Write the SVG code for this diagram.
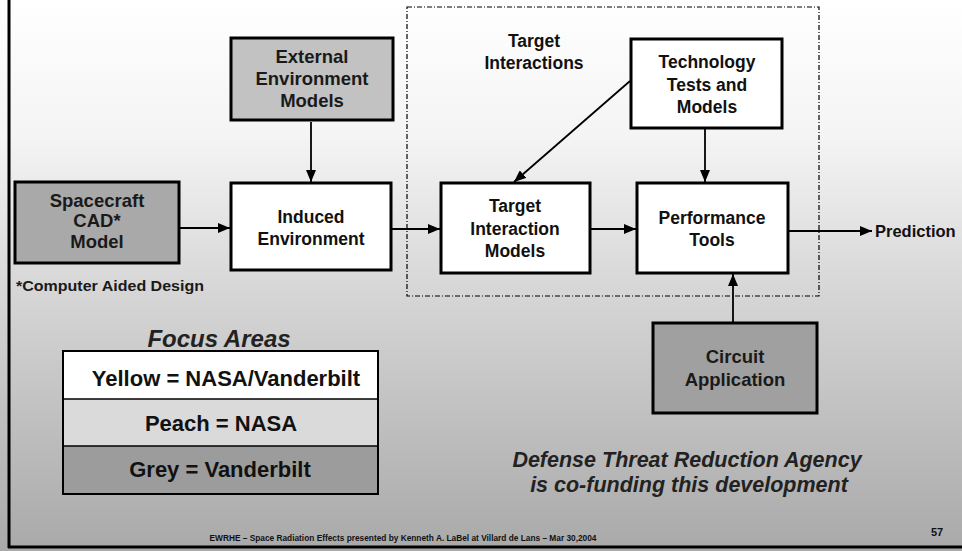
<svg xmlns="http://www.w3.org/2000/svg" width="962" height="551" viewBox="0 0 962 551">
  <defs>
    <linearGradient id="bg" x1="0" y1="0" x2="0" y2="1">
      <stop offset="0" stop-color="#ffffff"/>
      <stop offset="0.25" stop-color="#f4f4f4"/>
      <stop offset="0.5" stop-color="#d9d9d9"/>
      <stop offset="0.8" stop-color="#bcbcbc"/>
      <stop offset="1" stop-color="#a9a9a9"/>
    </linearGradient>
    <marker id="arrow" viewBox="0 0 12 10" refX="12" refY="5" markerWidth="12" markerHeight="10" markerUnits="userSpaceOnUse" orient="auto">
      <path d="M0,0 L12,5 L0,10 z" fill="#000"/>
    </marker>
  </defs>
  <style>
    .box { stroke: #000; stroke-width: 3; }
    .white { fill: #ffffff; }
    .grey1 { fill: #c2c2c2; }
    .grey2 { fill: #a9a9a9; }
    .grey3 { fill: #a0a0a0; }
    .lbl { font-family: "Liberation Sans", Arial, sans-serif; font-weight: bold; font-size: 17.5px; fill: #111; text-anchor: middle; }
    .heavy { font-size: 18.5px; fill: #1a1a1a; }
    .edge { stroke: #000; stroke-width: 1.8; fill: none; marker-end: url(#arrow); }
    .ital { font-family: "Liberation Sans", Arial, sans-serif; font-weight: bold; font-style: italic; fill: #222; text-anchor: middle; }
    .leg { font-size: 22px; }
  </style>

  <!-- slide background and frame -->
  <rect x="0" y="0" width="962" height="551" fill="url(#bg)"/>
  <line x1="9" y1="0" x2="9" y2="548" stroke="#000" stroke-width="3"/>
  <line x1="8" y1="547" x2="962" y2="547" stroke="#000" stroke-width="3"/>

  <!-- target interactions boundary -->
  <rect x="407" y="7" width="412" height="289" fill="none" stroke="#000" stroke-width="1.2" stroke-dasharray="5,2,1,2"/>
  <text class="lbl" x="534" y="47">Target</text>
  <text class="lbl" x="534" y="69">Interactions</text>

  <g id="connectors">
    <line class="edge" x1="179" y1="228" x2="230" y2="228"/>
    <line class="edge" x1="311" y1="122" x2="311" y2="182"/>
    <line class="edge" x1="392" y1="229" x2="440" y2="229"/>
    <line class="edge" x1="630" y1="81" x2="514" y2="182"/>
    <line class="edge" x1="591" y1="229" x2="636" y2="229"/>
    <line class="edge" x1="705" y1="129" x2="705" y2="182"/>
    <line class="edge" x1="789" y1="231" x2="872" y2="231"/>
    <line class="edge" x1="733" y1="322" x2="733" y2="274"/>
  </g>

  <g id="spacecraft">
    <rect class="box grey2" x="15" y="182" width="164" height="81"/>
    <text class="lbl heavy" x="97" y="207">Spacecraft</text>
    <text class="lbl heavy" x="97" y="227">CAD*</text>
    <text class="lbl heavy" x="97" y="248">Model</text>
  </g>

  <g id="external">
    <rect class="box grey1" x="231" y="38" width="162" height="82"/>
    <text class="lbl heavy" x="312" y="63">External</text>
    <text class="lbl heavy" x="312" y="85">Environment</text>
    <text class="lbl heavy" x="312" y="107">Models</text>
  </g>

  <g id="induced">
    <rect class="box white" x="231" y="183" width="160" height="87"/>
    <text class="lbl" x="311" y="223">Induced</text>
    <text class="lbl" x="311" y="245">Environment</text>
  </g>

  <g id="technology">
    <rect class="box white" x="631" y="39" width="151" height="89"/>
    <text class="lbl" x="707" y="68">Technology</text>
    <text class="lbl" x="707" y="91">Tests and</text>
    <text class="lbl" x="707" y="113">Models</text>
  </g>

  <g id="target-models">
    <rect class="box white" x="441" y="183" width="149" height="90"/>
    <text class="lbl" x="515" y="212">Target</text>
    <text class="lbl" x="515" y="235">Interaction</text>
    <text class="lbl" x="515" y="257">Models</text>
  </g>

  <g id="performance">
    <rect class="box white" x="637" y="183" width="151" height="90"/>
    <text class="lbl" x="712" y="224">Performance</text>
    <text class="lbl" x="712" y="246">Tools</text>
  </g>

  <g id="prediction">
    <text class="lbl" x="875" y="237" style="text-anchor:start;font-size:16.5px">Prediction</text>
  </g>

  <g id="circuit">
    <rect class="box grey3" x="653" y="323" width="164" height="90"/>
    <text class="lbl heavy" x="735" y="363">Circuit</text>
    <text class="lbl heavy" x="735" y="386">Application</text>
  </g>

  <text x="16" y="291" font-family="Liberation Sans, Arial, sans-serif" font-weight="bold" font-size="15" fill="#1a1a1a" textLength="188" lengthAdjust="spacingAndGlyphs">*Computer Aided Design</text>

  <!-- legend -->
  <text class="ital" x="219" y="347" font-size="24">Focus Areas</text>
  <g id="legend">
    <rect x="63" y="351" width="315" height="48" fill="#ffffff"/>
    <rect x="63" y="399" width="315" height="47" fill="#dadada"/>
    <rect x="63" y="446" width="315" height="48" fill="#9c9c9c"/>
    <line x1="63" y1="399" x2="378" y2="399" stroke="#000" stroke-width="1.5"/>
    <line x1="63" y1="446" x2="378" y2="446" stroke="#000" stroke-width="1.5"/>
    <rect x="63" y="351" width="315" height="143" fill="none" stroke="#000" stroke-width="2"/>
    <text class="lbl leg" x="226" y="386">Yellow = NASA/Vanderbilt</text>
    <text class="lbl leg" x="221" y="431" fill="#1a1a1a">Peach = NASA</text>
    <text class="lbl leg" x="220" y="477" fill="#1a1a1a">Grey = Vanderbilt</text>
  </g>

  <text class="ital" x="687" y="467" font-size="21.5">Defense Threat Reduction Agency</text>
  <text class="ital" x="689" y="492" font-size="21.5">is co-funding this development</text>

  <!-- footer -->
  <text x="403" y="541" font-family="Liberation Sans, Arial, sans-serif" font-weight="bold" font-size="8.5" fill="#111" text-anchor="middle" textLength="387" lengthAdjust="spacingAndGlyphs">EWRHE – Space Radiation Effects presented by Kenneth A. LaBel at Villard de Lans – Mar 30,2004</text>
  <text x="931" y="536" font-family="Liberation Sans, Arial, sans-serif" font-weight="bold" font-size="11" fill="#111">57</text>
</svg>
